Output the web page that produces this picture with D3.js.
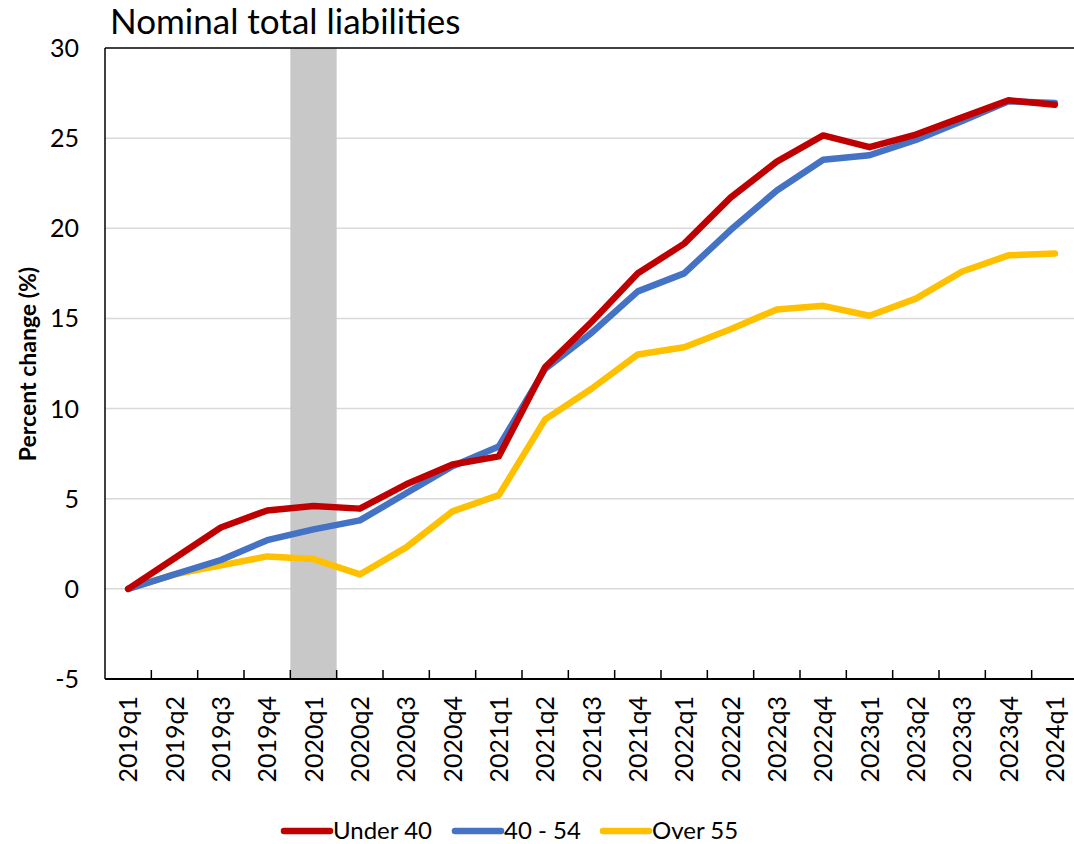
<!DOCTYPE html>
<html><head><meta charset="utf-8">
<script src="https://cdn.jsdelivr.net/npm/d3@7"></script>
<style>body{margin:0;background:#fff;} svg{display:block;font-family:Lato,"Open Sans",sans-serif;}</style>
</head><body>
<svg id="c" width="1074" height="844"></svg>
<script>
const categories = ["2019q1","2019q2","2019q3","2019q4","2020q1","2020q2","2020q3","2020q4","2021q1","2021q2","2021q3","2021q4","2022q1","2022q2","2022q3","2022q4","2023q1","2023q2","2023q3","2023q4","2024q1"];
const under40 = [0,1.7,3.4,4.35,4.6,4.45,5.8,6.9,7.35,12.3,14.8,17.5,19.15,21.7,23.7,25.15,24.5,25.2,26.15,27.1,26.85];
const age40to54 = [0,0.8,1.6,2.7,3.3,3.8,5.3,6.8,7.9,12.2,14.2,16.5,17.5,19.9,22.1,23.8,24.05,24.9,25.95,27.05,26.95];
const over55 = [0,0.8,1.3,1.8,1.65,0.8,2.3,4.3,5.2,9.4,11.1,13.0,13.4,14.4,15.5,15.7,15.15,16.1,17.6,18.5,18.6];
const yTicks = [-5,0,5,10,15,20,25,30];
const shaded = ["2020q1"];
const seriesNames = ["Under 40","40 - 54","Over 55"];
const colors = ["#C00000","#4472C4","#FFC000"];

const svg = d3.select("#c");
const L=105, R=1078, T=48, B=679;
const x = d3.scaleBand().domain(categories).range([L,R]);
const y = d3.scaleLinear().domain([-5,30]).range([B,T]);

// gridlines
svg.append("g").selectAll("line").data(yTicks.filter(v=>v>-5 && v<30)).join("line")
  .attr("x1",L).attr("x2",R).attr("y1",d=>y(d)).attr("y2",d=>y(d))
  .attr("stroke","#d9d9d9").attr("stroke-width",1.5);

// shading
svg.append("g").selectAll("rect").data(shaded).join("rect")
  .attr("x",d=>x(d)).attr("width",x.bandwidth()).attr("y",T).attr("height",B-T)
  .attr("fill","#c8c8c8");

// plot border top & left
svg.append("line").attr("x1",L).attr("x2",R).attr("y1",T).attr("y2",T).attr("stroke","#000").attr("stroke-width",1.5);
svg.append("line").attr("x1",L).attr("x2",L).attr("y1",T).attr("y2",B).attr("stroke","#000").attr("stroke-width",1.5);

// x axis
const xAxis = svg.append("g").attr("transform",`translate(0,${B})`);
xAxis.append("line").attr("x1",L).attr("x2",R).attr("stroke","#000").attr("stroke-width",2);
xAxis.selectAll("line.tk").data(categories.slice(1)).join("line").attr("class","tk")
  .attr("x1",d=>x(d)).attr("x2",d=>x(d)).attr("y1",0).attr("y2",-9).attr("stroke","#000").attr("stroke-width",1.5);
xAxis.selectAll("text").data(categories).join("text")
  .attr("transform",d=>`translate(${x(d)+x.bandwidth()/2+9},17) rotate(-90)`)
  .attr("text-anchor","end").attr("font-size",25).attr("fill","#000").text(d=>d);

// y axis labels
svg.append("g").selectAll("text").data(yTicks).join("text")
  .attr("x",79).attr("y",d=>y(d)+9).attr("text-anchor","end").attr("font-size",25).attr("fill","#000").text(d=>d);

svg.append("text").attr("transform",`translate(36,${364}) rotate(-90)`).attr("text-anchor","middle")
  .attr("font-size",23).attr("font-weight","bold").text("Percent change (%)");

svg.append("text").attr("x",110).attr("y",34).attr("font-size",35).text("Nominal total liabilities");

// lines
const data = [under40, age40to54, over55];
const line = d3.line().x((d,i)=>x(categories[i])+x.bandwidth()/2).y(d=>y(d));
[2,1,0].forEach(k=>{
  svg.append("path").attr("d",line(data[k])).attr("fill","none").attr("stroke",colors[k])
    .attr("stroke-width",6.5).attr("stroke-linejoin","round").attr("stroke-linecap","round");
});

// legend
const legX = [284,455,603];
const lg = svg.append("g");
seriesNames.forEach((n,i)=>{
  lg.append("line").attr("x1",legX[i]).attr("x2",legX[i]+46).attr("y1",831).attr("y2",831)
    .attr("stroke",colors[i]).attr("stroke-width",6.5).attr("stroke-linecap","round");
  lg.append("text").attr("x",legX[i]+49).attr("y",839).attr("font-size",24).text(n);
});
</script>
</body></html>
